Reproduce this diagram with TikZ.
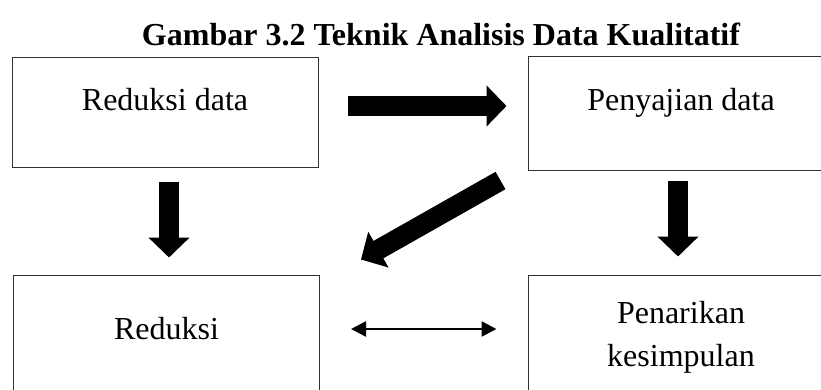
\documentclass[tikz,border=0pt]{standalone}
\usepackage{fontspec}
\setmainfont{Liberation Serif}
\usetikzlibrary{arrows.meta}
\tikzset{
  box/.style={draw=black!80,line width=1pt,inner sep=0pt,align=center,minimum width=306pt,font=\fontsize{32}{43}\selectfont},
  bigarrow/.style={line width=20pt,-{Triangle[length=20pt,width=40pt]}},
  twoway/.style={line width=2.5pt,{Triangle[length=15pt,width=15pt]}-{Triangle[length=15pt,width=15pt]}}
}
\begin{document}
\begin{tikzpicture}[x=1pt,y=-1pt]
\useasboundingbox (0,0) rectangle (821,389);
\clip (0,0) rectangle (821,389);
\node[anchor=base,font=\fontsize{32}{38}\selectfont\bfseries] (judul) at (441,45) {Gambar 3.2 Teknik Analisis Data Kualitatif};
\node[box,text height=53pt,text depth=57pt] (rd) at (165,112) {Reduksi data};
\node[box,text height=54pt,text depth=60pt] (pd) at (681,113) {Penyajian data};
\node[box,text height=64pt,text depth=56pt] (rr) at (166.5,335) {Reduksi};
\node[box,text height=91pt,text depth=29pt] (pk) at (681,335) {Penarikan\\kesimpulan};
\draw[bigarrow,shorten <=29pt,shorten >=21pt] ([yshift=6pt]rd.east) -- ([yshift=7pt]pd.west);
\draw[bigarrow,shorten <=14pt,shorten >=17pt] ([xshift=4pt]rd.south) -- ([xshift=2.5pt]rr.north);
\draw[bigarrow,shorten <=10pt,shorten >=18pt] ([xshift=-3pt]pd.south) -- ([xshift=-3pt]pk.north);
\draw[bigarrow] ([xshift=-27pt,yshift=-10pt]pd.south west) -- ([xshift=41pt,yshift=15pt]rr.north east);
\draw[twoway,shorten <=31pt,shorten >=31pt] ([yshift=6pt]rr.east) -- ([yshift=6pt]pk.west);
\end{tikzpicture}
\end{document}
